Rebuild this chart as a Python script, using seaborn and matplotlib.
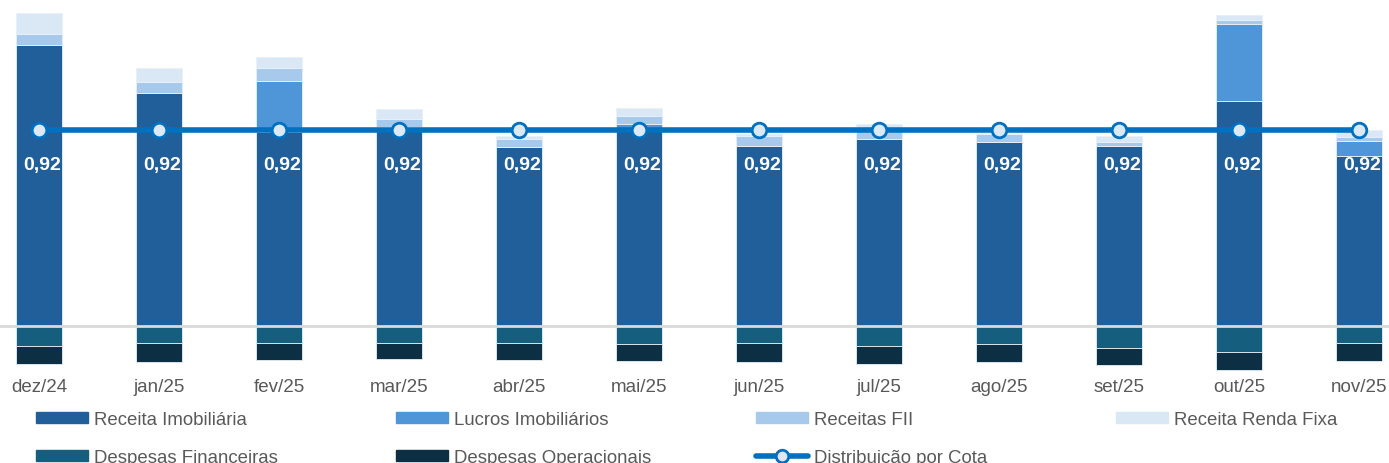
import numpy as np
import pandas as pd
import matplotlib
matplotlib.use("Agg")
import matplotlib.pyplot as plt
import seaborn as sns
from matplotlib.patches import Patch
from matplotlib.lines import Line2D

months = ["dez/24", "jan/25", "fev/25", "mar/25", "abr/25", "mai/25",
          "jun/25", "jul/25", "ago/25", "set/25", "out/25", "nov/25"]

receita_imob = [1.319, 1.094, 0.911, 0.936, 0.839, 0.920, 0.847, 0.878, 0.865, 0.844, 1.058, 0.797]
lucros_imob = [0.000, 0.000, 0.241, 0.000, 0.000, 0.028, 0.000, 0.000, 0.000, 0.000, 0.360, 0.073]
receitas_fii = [0.053, 0.053, 0.058, 0.036, 0.039, 0.039, 0.047, 0.042, 0.036, 0.022, 0.020, 0.019]
renda_fixa = [0.097, 0.064, 0.053, 0.047, 0.014, 0.035, 0.008, 0.028, 0.005, 0.025, 0.022, 0.031]
desp_fin = [-0.095, -0.078, -0.081, -0.081, -0.081, -0.086, -0.081, -0.095, -0.086, -0.102, -0.123, -0.081]
desp_op = [-0.083, -0.089, -0.080, -0.075, -0.080, -0.080, -0.086, -0.082, -0.085, -0.083, -0.083, -0.082]
distribuicao = [0.92] * 12

c_ri = "#215F9A"
c_li = "#4F96D8"
c_fii = "#A6C9EC"
c_rf = "#DAE7F5"
c_df = "#165E7E"
c_do = "#0D2F43"
c_line = "#0070C0"

sns.set_style("white")
plt.rcParams["font.family"] = ["Liberation Sans", "DejaVu Sans"]

fig = plt.figure(figsize=(13.89, 4.64), dpi=100)
ax = fig.add_axes([0, 1 - 372 / 464, 1, 367 / 464])

pos_series = [(receita_imob, c_ri), (lucros_imob, c_li), (receitas_fii, c_fii), (renda_fixa, c_rf)]
neg_series = [(desp_fin, c_df), (desp_op, c_do)]

bottom = np.zeros(len(months))
for vals, col in pos_series:
    sns.barplot(x=months, y=vals, bottom=bottom, color=col, width=0.39,
                errorbar=None, edgecolor="#E8F0F8", linewidth=0.6, saturation=1, ax=ax)
    bottom = bottom + np.array(vals)

bottom = np.zeros(len(months))
for vals, col in neg_series:
    sns.barplot(x=months, y=vals, bottom=bottom, color=col, width=0.39,
                errorbar=None, edgecolor="#E8F0F8", linewidth=0.6, saturation=1, ax=ax)
    bottom = bottom + np.array(vals)

ax.axhline(0, color="#D9D9D9", lw=2, zorder=3)

xpos = np.arange(len(months))
sns.lineplot(x=xpos, y=distribuicao, color=c_line, lw=4, marker="o", markersize=10.5,
             markerfacecolor="#DDE8F5", markeredgecolor=c_line, markeredgewidth=2,
             zorder=5, ax=ax)

for i, v in enumerate(distribuicao):
    ax.text(i + 0.03, v - 0.163, f"{v:.2f}".replace(".", ","), color="white",
            fontsize=14, fontweight="bold", ha="center", va="center", zorder=6)

ax.set_xlim(-39 / 120, 11 + 30 / 120)
ax.set_ylim(-45 / 213, 322 / 213)
ax.set_yticks([])
ax.set_ylabel("")
ax.tick_params(axis="x", length=0, pad=5, labelsize=13.5, labelcolor="#595959")
for s in ax.spines.values():
    s.set_visible(False)

# legend, four columns
cols = [
    [Patch(color=c_ri, label="Receita Imobiliária"), Patch(color=c_df, label="Despesas Financeiras")],
    [Patch(color=c_li, label="Lucros Imobiliários"), Patch(color=c_do, label="Despesas Operacionais")],
    [Patch(color=c_fii, label="Receitas FII"),
     Line2D([0], [0], color=c_line, lw=4, marker="o", markersize=9, markerfacecolor="#DDE8F5",
            markeredgecolor=c_line, markeredgewidth=2, label="Distribuição por Cota")],
    [Patch(color=c_rf, label="Receita Renda Fixa")],
]
for k, handles in enumerate(cols):
    leg = fig.legend(handles=handles, loc="upper left",
                     bbox_to_anchor=((36 + 360 * k) / 1389, 1 - 412 / 464),
                     frameon=False, fontsize=13.4, handlelength=2.8, handleheight=0.55,
                     handletextpad=0.3, borderpad=0, borderaxespad=0, labelspacing=1.15,
                     labelcolor="#595959")

fig.savefig("out.png", dpi=100)
